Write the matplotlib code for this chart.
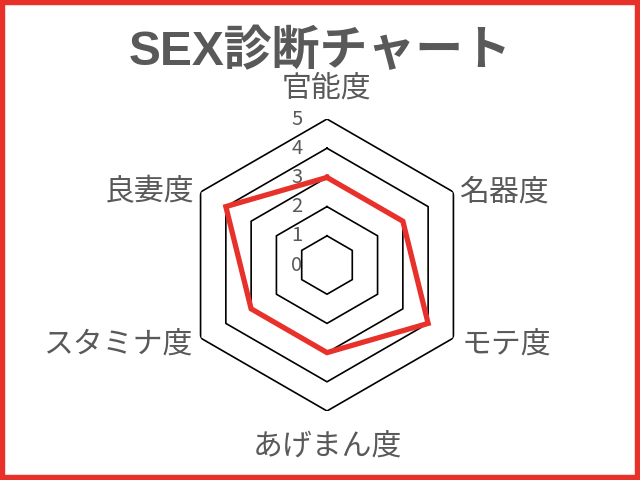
import numpy as np
import matplotlib
matplotlib.use("Agg")
import matplotlib.pyplot as plt
from matplotlib.patches import Rectangle
from matplotlib.transforms import ScaledTranslation

plt.rcParams['font.family'] = ['Noto Sans CJK JP', 'DejaVu Sans']

title = "SEX診断チャート"
categories = ["官能度", "名器度", "モテ度", "あげまん度", "スタミナ度", "良妻度"]
values = [3, 3, 4, 3, 3, 4]
levels = [1, 2, 3, 4, 5]
tick_labels = ["0", "1", "2", "3", "4", "5"]

RED = "#E8312A"
GRAY = "#595959"

fig = plt.figure(figsize=(6.4, 4.8), dpi=100)
ax = fig.add_axes([0.2828, 0.14375, 0.45625, 0.6083], projection='polar')
ax.set_theta_zero_location('N')
ax.set_theta_direction(-1)
ax.set_ylim(0, 5)
ax.axis('off')

n = len(categories)
angles = np.linspace(0, 2 * np.pi, n, endpoint=False)
closed = np.concatenate([angles, angles[:1]])

for lv in levels:
    ax.plot(closed, [lv] * (n + 1), color='black', lw=1.2, zorder=1)

vals = values + values[:1]
ax.plot(closed, vals, color=RED, lw=3.8, zorder=3, solid_joinstyle='miter')

# radial tick labels
off = ScaledTranslation(-30 / 100, 0, fig.dpi_scale_trans)
for i, t in enumerate(tick_labels):
    ax.text(0, i, t, transform=ax.transData + off, ha='center', va='center',
            fontsize=14.5, color=GRAY, zorder=4)

# category labels
lab_pos = [
    (0.0, 5.0, 'center', 'center', (0, 31)),
    (angles[1], 5.0, 'left', 'center', (6, 0)),
    (angles[2], 5.0, 'left', 'center', (8, -7)),
    (angles[3], 5.0, 'center', 'center', (0, -36)),
    (angles[4], 5.0, 'right', 'center', (-8, -7)),
    (angles[5], 5.0, 'right', 'center', (-6, 0)),
]
for cat, (th, r, ha, va, (dx, dy)) in zip(categories, lab_pos):
    tr = ax.transData + ScaledTranslation(dx / 100, dy / 100, fig.dpi_scale_trans)
    ax.text(th, r, cat, transform=tr, ha=ha, va=va, fontsize=21.5, color=GRAY)

fig.text(0.5, 1 - 52 / 480, title, ha='center', va='center', fontsize=34.5,
         fontweight='bold', color=GRAY,
         family=['Liberation Sans', 'Noto Sans CJK JP'])

fig.add_artist(Rectangle((0, 0), 1, 1, transform=fig.transFigure, fill=False,
                         lw=7.5, ec=RED))

fig.savefig("out.png", dpi=100)
